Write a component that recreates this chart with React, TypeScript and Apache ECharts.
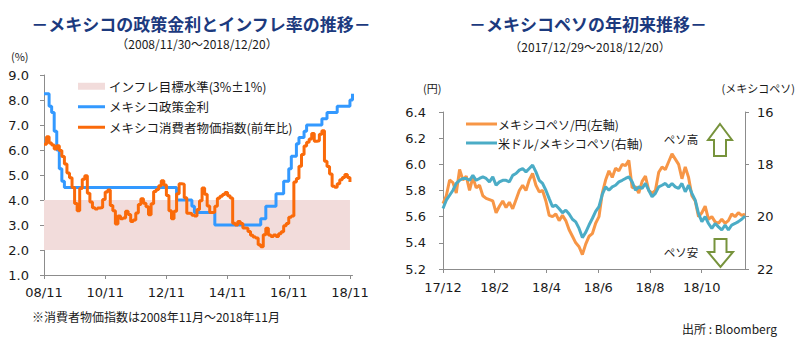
import React, { useEffect, useRef } from "react";
import * as echarts from "echarts";

// ---------------- Left chart: Mexico policy rate & CPI (monthly, index 0 = 2008/11) ----------------
const policyRate: number[] = [
  8.25, 8.25,
  7.75, 7.5, 6.75, 6.0, 5.25, 4.75, 4.5, 4.5, 4.5, 4.5, 4.5, 4.5,
  4.5, 4.5, 4.5, 4.5, 4.5, 4.5, 4.5, 4.5, 4.5, 4.5, 4.5, 4.5,
  4.5, 4.5, 4.5, 4.5, 4.5, 4.5, 4.5, 4.5, 4.5, 4.5, 4.5, 4.5,
  4.5, 4.5, 4.5, 4.5, 4.5, 4.5, 4.5, 4.5, 4.5, 4.5, 4.5, 4.5,
  4.5, 4.5, 4.0, 4.0, 4.0, 4.0, 4.0, 4.0, 3.75, 3.5, 3.5, 3.5,
  3.5, 3.5, 3.5, 3.5, 3.5, 3.0, 3.0, 3.0, 3.0, 3.0, 3.0, 3.0,
  3.0, 3.0, 3.0, 3.0, 3.0, 3.0, 3.0, 3.0, 3.0, 3.0, 3.0, 3.25,
  3.25, 3.75, 3.75, 3.75, 3.75, 4.25, 4.25, 4.25, 4.75, 4.75, 5.25, 5.75,
  5.75, 6.25, 6.5, 6.5, 6.75, 7.0, 7.0, 7.0, 7.0, 7.0, 7.0, 7.25,
  7.25, 7.5, 7.5, 7.5, 7.5, 7.75, 7.75, 7.75, 7.75, 7.75, 8.0, 8.25,
];

const cpiYoY: number[] = [
  6.23, 6.53,
  6.28, 6.2, 6.04, 6.17, 5.98, 5.74, 5.44, 5.08, 4.89, 4.5, 3.86, 3.57,
  4.46, 4.83, 4.97, 4.27, 3.92, 3.69, 3.64, 3.68, 3.7, 4.02, 4.32, 4.4,
  3.78, 3.57, 3.04, 3.36, 3.25, 3.28, 3.55, 3.42, 3.14, 3.2, 3.48, 3.82,
  4.05, 3.87, 3.73, 3.41, 3.85, 4.34, 4.42, 4.57, 4.77, 4.6, 4.18, 3.57,
  3.25, 3.55, 4.25, 4.65, 4.63, 4.09, 3.47, 3.46, 3.39, 3.36, 3.62, 3.97,
  4.48, 4.23, 3.76, 3.5, 3.51, 3.75, 4.07, 4.15, 4.22, 4.3, 4.17, 4.08,
  3.07, 3.0, 3.14, 3.06, 2.88, 2.87, 2.74, 2.59, 2.52, 2.48, 2.21, 2.13,
  2.61, 2.87, 2.6, 2.54, 2.6, 2.54, 2.65, 2.73, 2.97, 3.06, 3.31, 3.36,
  4.72, 4.86, 5.35, 5.82, 6.16, 6.31, 6.44, 6.66, 6.35, 6.37, 6.63, 6.77,
  5.55, 5.34, 5.04, 4.55, 4.51, 4.65, 4.81, 4.9, 5.02, 4.9, 4.72,
];

const inflationTarget = 3;
const inflationTolerance = 1;
const leftTickMonths = [0, 24, 48, 72, 96, 120];
const leftTickLabels = ["08/11", "10/11", "12/11", "14/11", "16/11", "18/11"];
const leftLastMonth = 121;

// ---------------- Right chart: peso since start of year (2017/12/29 ~ 2018/12/20) ----------------
const mxnJpy: number[] = [
  5.7, 5.76, 5.88, 5.86, 5.78, 5.96, 5.88, 5.91, 5.8, 5.9,
  5.82, 5.84, 5.76, 5.74, 5.73, 5.72, 5.63, 5.68, 5.72, 5.67,
  5.71, 5.66, 5.73, 5.8, 5.84, 5.8, 5.88, 5.93, 5.84, 5.79,
  5.8, 5.72, 5.61, 5.6, 5.62, 5.57, 5.61, 5.57, 5.5, 5.45,
  5.4, 5.37, 5.31, 5.39, 5.45, 5.47, 5.55, 5.6, 5.78, 5.88,
  5.95, 5.9, 5.97, 5.95, 6.0, 5.99, 6.03, 5.82, 5.83, 5.78,
  5.87, 5.91, 5.8, 5.78, 5.8, 5.94, 5.98, 5.96, 6.02, 6.08,
  6.04, 6.0, 5.89, 5.98, 5.9, 5.76, 5.72, 5.6, 5.63, 5.68,
  5.58, 5.6, 5.56, 5.55, 5.58, 5.55, 5.57, 5.62, 5.6, 5.63,
  5.61, 5.62,
];

const usdMxn: number[] = [
  19.69, 19.37, 19.18, 18.99, 18.73, 18.61, 18.54, 18.54, 18.61, 18.42,
  18.61, 18.54, 18.48, 18.54, 18.67, 18.48, 18.8, 18.67, 18.61, 18.61,
  18.67, 18.42, 18.35, 18.22, 18.16, 18.29, 18.16, 18.03, 18.29, 18.61,
  18.73, 18.99, 19.31, 19.62, 19.56, 19.7, 19.85, 19.75, 19.9, 20.1,
  20.2, 20.45, 20.8, 20.6, 20.32, 20.07, 19.8, 19.62, 19.15, 18.86,
  18.99, 18.86, 18.8, 18.67, 18.61, 18.54, 18.48, 18.67, 18.99, 18.86,
  18.92, 18.73, 18.99, 19.24, 19.11, 18.86, 18.8, 18.73, 18.86, 18.73,
  18.86, 18.92, 18.73, 19.05, 18.8, 19.11, 19.37, 19.88, 20.19, 20.0,
  20.26, 20.45, 20.26, 20.39, 20.51, 20.32, 20.51, 20.32, 20.26, 20.19,
  20.1, 19.98,
];

const fxSpanDays = 356; // 2017/12/29 -> 2018/12/20
const rightTickDays = [0, 61, 122, 183, 244, 305];
const rightTickLabels = ["17/12", "18/2", "18/4", "18/6", "18/8", "18/10"];

const legendNames = {
  band: "インフレ目標水準(3%±1%)",
  rate: "メキシコ政策金利",
  cpi: "メキシコ消費者物価指数(前年比)",
  jpy: "メキシコペソ/円(左軸)",
  usd: "米ドル/メキシコペソ(右軸)",
};

const JP = "'Noto Sans CJK JP', 'Noto Sans', sans-serif";
const NUM = "'DejaVu Sans', Verdana, sans-serif";
const AXIS_GRAY = "#8c8c8c";
const TEXT = "#1a1a1a";
const TITLE_COLOR = "#1c3a7e";

function App() {
  const ref = useRef<HTMLDivElement>(null);

  useEffect(() => {
    if (!ref.current) return;
    const chart = echarts.init(ref.current, undefined, { renderer: "svg" });

    const axisLine = { show: true, lineStyle: { color: AXIS_GRAY, width: 1 } };
    const axisTick = { show: true, inside: false, length: 4, lineStyle: { color: AXIS_GRAY } };
    const numLabel = { fontFamily: NUM, fontSize: 13, color: TEXT };

    const fxX = (i: number, n: number) => (i * fxSpanDays) / (n - 1);

    const text = (x: number, y: number, t: string, font: string, fill: string, align = "center") => ({
      type: "text",
      x,
      y,
      silent: true,
      style: { text: t, font, fill, align, verticalAlign: "middle" },
    });

    const arrowStyle = { fill: "#ffffff", stroke: "#77933c", lineWidth: 2 };

    const option: any = {
      animation: false,
      backgroundColor: "#ffffff",
      grid: [
        { left: 44, top: 75, width: 308.5, height: 200 },
        { left: 443, top: 112, width: 302, height: 157 },
      ],
      xAxis: [
        {
          type: "value",
          gridIndex: 0,
          min: 0,
          max: leftLastMonth,
          axisLine: { ...axisLine, onZero: false },
          axisTick: { ...axisTick, customValues: leftTickMonths },
          splitLine: { show: false },
          axisLabel: {
            ...numLabel,
            margin: 11,
            customValues: leftTickMonths,
            formatter: (v: number) => {
              const k = leftTickMonths.indexOf(Math.round(v));
              return k >= 0 ? leftTickLabels[k] : "";
            },
          },
        },
        {
          type: "value",
          gridIndex: 1,
          min: 0,
          max: fxSpanDays,
          axisLine: { ...axisLine, onZero: false },
          axisTick: { ...axisTick, customValues: rightTickDays },
          splitLine: { show: false },
          axisLabel: {
            ...numLabel,
            margin: 12,
            customValues: rightTickDays,
            formatter: (v: number) => {
              const k = rightTickDays.indexOf(Math.round(v));
              return k >= 0 ? rightTickLabels[k] : "";
            },
          },
        },
      ],
      yAxis: [
        {
          type: "value",
          gridIndex: 0,
          min: 1,
          max: 9,
          interval: 1,
          axisLine,
          axisTick,
          splitLine: { show: false },
          axisLabel: { ...numLabel, margin: 15, formatter: (v: number) => v.toFixed(1) },
        },
        {
          type: "value",
          gridIndex: 1,
          min: 5.2,
          max: 6.4,
          interval: 0.2,
          position: "left",
          axisLine,
          axisTick,
          splitLine: { show: false },
          axisLabel: { ...numLabel, margin: 17, formatter: (v: number) => v.toFixed(1) },
        },
        {
          type: "value",
          gridIndex: 1,
          min: 16,
          max: 22,
          interval: 2,
          inverse: true,
          position: "right",
          axisLine,
          axisTick,
          splitLine: { show: false },
          axisLabel: { ...numLabel, margin: 12, formatter: (v: number) => String(v) },
        },
      ],
      legend: [
        {
          orient: "vertical",
          left: 73,
          top: 75,
          itemWidth: 27,
          itemHeight: 14,
          itemGap: 8,
          symbolKeepAspect: true,
          selectedMode: false,
          itemStyle: { borderWidth: 0 },
          textStyle: { fontFamily: JP, fontSize: 12.5, color: TEXT, padding: [0, 0, 0, -1] },
          data: [
            { name: legendNames.band, icon: "path://M0,0H27V7H0Z" },
            { name: legendNames.rate, icon: "path://M0,0H27V3H0Z" },
            { name: legendNames.cpi, icon: "path://M0,0H27V3H0Z" },
          ],
        },
        {
          orient: "vertical",
          left: 461,
          top: 113,
          itemWidth: 31,
          itemHeight: 14,
          itemGap: 7,
          symbolKeepAspect: true,
          selectedMode: false,
          itemStyle: { borderWidth: 0 },
          textStyle: { fontFamily: JP, fontSize: 12, color: TEXT, padding: [0, 0, 0, -4] },
          data: [
            { name: legendNames.jpy, icon: "path://M0,0H31V3H0Z" },
            { name: legendNames.usd, icon: "path://M0,0H31V3H0Z" },
          ],
        },
      ],
      series: [
        {
          name: legendNames.band,
          type: "line",
          xAxisIndex: 0,
          yAxisIndex: 0,
          color: "#f2dcdb",
          data: [],
          silent: true,
          markArea: {
            silent: true,
            itemStyle: { color: "#f2dcdb" },
            data: [
              [
                { xAxis: leftTickMonths[0], yAxis: inflationTarget + inflationTolerance },
                { xAxis: leftTickMonths[leftTickMonths.length - 1], yAxis: inflationTarget - inflationTolerance },
              ],
            ],
          },
        },
        {
          name: legendNames.rate,
          type: "line",
          xAxisIndex: 0,
          yAxisIndex: 0,
          color: "#3399ff",
          step: "end",
          symbol: "none",
          showSymbol: false,
          lineStyle: { width: 3, color: "#3399ff" },
          data: policyRate.map((v, i) => [i, v]),
        },
        {
          name: legendNames.cpi,
          type: "line",
          xAxisIndex: 0,
          yAxisIndex: 0,
          color: "#fa6a0a",
          step: "end",
          symbol: "none",
          showSymbol: false,
          lineStyle: { width: 3, color: "#fa6a0a" },
          data: cpiYoY.map((v, i) => [i, v]),
        },
        {
          name: legendNames.jpy,
          type: "line",
          xAxisIndex: 1,
          yAxisIndex: 1,
          color: "#f79646",
          symbol: "none",
          showSymbol: false,
          lineStyle: { width: 3, color: "#f79646" },
          data: mxnJpy.map((v, i) => [fxX(i, mxnJpy.length), v]),
        },
        {
          name: legendNames.usd,
          type: "line",
          xAxisIndex: 1,
          yAxisIndex: 2,
          color: "#4bacc6",
          symbol: "none",
          showSymbol: false,
          lineStyle: { width: 3, color: "#4bacc6" },
          data: usdMxn.map((v, i) => [fxX(i, usdMxn.length), v]),
        },
      ],
      graphic: [
        text(201, 23, "－メキシコの政策金利とインフレ率の推移－", `bold 17px ${JP}`, TITLE_COLOR),
        text(197, 43, "（2008/11/30～2018/12/20）", `12px ${JP}`, TEXT),
        text(588, 23, "－メキシコペソの年初来推移－", `bold 17px ${JP}`, TITLE_COLOR),
        text(590, 46, "（2017/12/29～2018/12/20）", `12px ${JP}`, TEXT),
        text(11, 56, "(%)", `11px ${JP}`, TEXT, "left"),
        text(423, 88, "(円)", `11px ${JP}`, TEXT, "left"),
        text(795, 88, "(メキシコペソ)", `11px ${JP}`, TEXT, "right"),
        text(681, 139, "ペソ高", `11.5px ${JP}`, TEXT),
        text(681, 252, "ペソ安", `11.5px ${JP}`, TEXT),
        text(32, 316, "※消費者物価指数は2008年11月～2018年11月", `12px ${JP}`, TEXT, "left"),
        text(777, 328, "出所 : Bloomberg", `12px ${JP}`, TEXT, "right"),
        {
          type: "polygon",
          silent: true,
          shape: {
            points: [
              [720, 124], [732, 140], [726, 140], [726, 156], [714, 156], [714, 140], [708, 140],
            ],
          },
          style: arrowStyle,
        },
        {
          type: "polygon",
          silent: true,
          shape: {
            points: [
              [714.5, 239], [726.5, 239], [726.5, 252], [733, 252], [720.5, 267], [708, 252], [714.5, 252],
            ],
          },
          style: arrowStyle,
        },
      ],
    };

    chart.setOption(option);
    return () => {
      chart.dispose();
    };
  }, []);

  return (
    <div
      ref={ref}
      style={{ position: "fixed", left: 0, top: 0, width: 800, height: 346, background: "#fff" }}
    />
  );
}

export default App;
